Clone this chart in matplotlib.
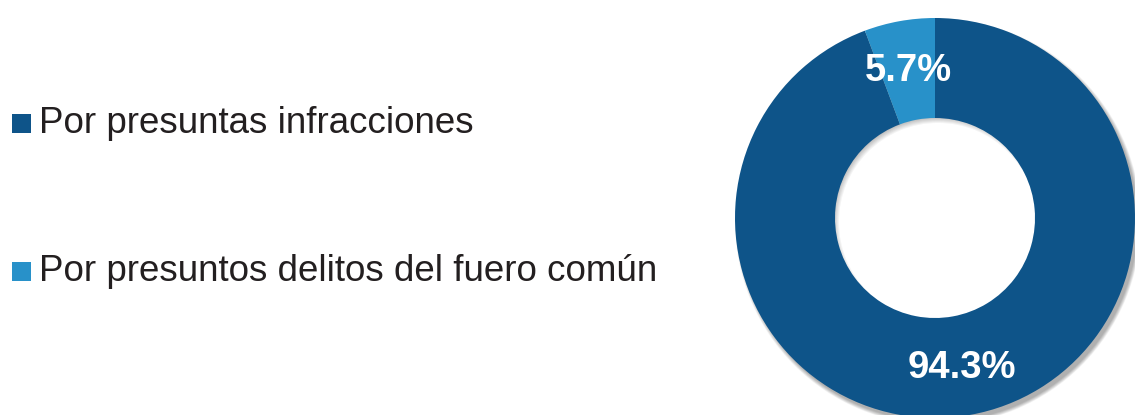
import matplotlib.pyplot as plt
from matplotlib.patches import Wedge, Rectangle

labels = ["Por presuntas infracciones", "Por presuntos delitos del fuero común"]
values = [94.3, 5.7]
colors = ["#0E5489", "#2891C9"]
pct_text = ["94.3%", "5.7%"]

W, H = 1135, 415
fig = plt.figure(figsize=(W / 100, H / 100), dpi=100)
ax = fig.add_axes([0, 0, 1, 1])

# positions in pixels from top-left, flipped to data y
cx, cy, r_out, ring = 935, H - 218, 200, 100

# soft shadow under the ring
for i in range(8):
    ax.add_patch(Wedge((cx + 3, cy - 4), r_out + 3 - i * 0.5, 0, 360, width=ring - 3 + i * 0.5,
                       color="black", alpha=0.045, lw=0))

ax.pie(values, colors=colors, startangle=90, counterclock=False, center=(cx, cy),
       radius=r_out, wedgeprops=dict(width=ring, linewidth=0))

ax.text(962, H - 368, pct_text[0], color="white", fontsize=27.5, fontweight="bold",
        family="Liberation Sans", ha="center", va="center")
ax.text(908, H - 71, pct_text[1], color="white", fontsize=27.5, fontweight="bold",
        family="Liberation Sans", ha="center", va="center")

# legend
for lab, col, y in zip(labels, colors, [133, 281]):
    ax.add_patch(Rectangle((12, H - y), 19, 19, color=col, lw=0))
    ax.text(39, H - y, lab, fontsize=26.5, family="Liberation Sans", color="#231F20",
            va="baseline", ha="left")

ax.set_xlim(0, W)
ax.set_ylim(0, H)
ax.set_aspect("auto")
ax.axis("off")
fig.savefig("out.png", dpi=100)
